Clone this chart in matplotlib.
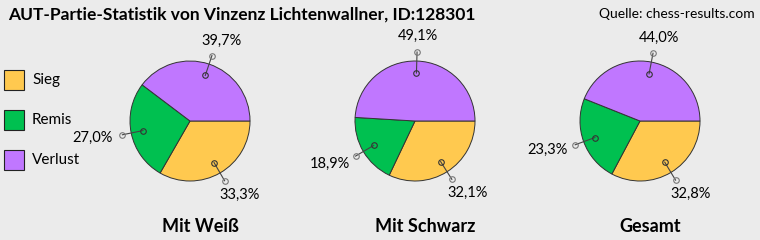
import numpy as np
import matplotlib
matplotlib.use("Agg")
import matplotlib.pyplot as plt

# Data
categories = ["Sieg", "Remis", "Verlust"]
colors = ["#FFC94F", "#00C050", "#C077FF"]
panels = ["Mit Weiß", "Mit Schwarz", "Gesamt"]
values = {
    "Mit Weiß": [33.3, 27.0, 39.7],
    "Mit Schwarz": [32.1, 18.9, 49.1],
    "Gesamt": [32.8, 23.3, 44.0],
}
title = "AUT-Partie-Statistik von Vinzenz Lichtenwallner, ID:128301"
source = "Quelle: chess-results.com"

plt.rcParams['font.family'] = ['Lato', 'DejaVu Sans']
bg = "#EBEBEB"

fig = plt.figure(figsize=(7.6, 2.4), dpi=100, facecolor=bg)
ax = fig.add_axes([0, 0, 1, 1])
ax.set_facecolor(bg)

centers = [(190, 121), (415, 121), (640, 121)]
r = 60

for (cx, cy), name in zip(centers, panels):
    vals = values[name]
    wedges, _ = ax.pie(vals, colors=colors, startangle=0, counterclock=True,
                       center=(cx, cy), radius=r, frame=True,
                       wedgeprops=dict(edgecolor="#333333", linewidth=0.7))
    total = sum(vals)
    start = 0.0
    for v in vals:
        mid = np.deg2rad((start + v / 2) / total * 360)
        start += v
        c, s = np.cos(mid), np.sin(mid)
        x1, y1 = cx + 0.8 * r * c, cy + 0.8 * r * s
        x2, y2 = cx + 1.15 * r * c, cy + 1.15 * r * s
        ax.plot([x1, x2], [y1, y2], color="#444444", lw=0.8)
        ax.plot([x1], [y1], "o", ms=4, mfc="none", mec="#333333", mew=0.8)
        ax.plot([x2], [y2], "o", ms=4, mfc="none", mec="#777777", mew=0.8)
        tx, ty = x2 + 30 * c, y2 + 16 * s
        ax.text(tx, ty, f"{v:.1f}%".replace(".", ","), ha="center", va="center",
                fontsize=10.5, color="black")
    ax.text(cx + 10, 226, name, ha="center", va="center", fontsize=13,
            fontweight="bold")

# legend
for i, (cat, col) in enumerate(zip(categories, colors)):
    y = 70 + i * 40
    ax.add_patch(plt.Rectangle((4, y), 20, 20, facecolor=col,
                               edgecolor="#222222", lw=0.8))
    ax.text(32, y + 10, cat, ha="left", va="center", fontsize=11)

ax.text(8, 15, title, ha="left", va="center", fontsize=12.5, fontweight="bold")
ax.text(755, 14, source, ha="right", va="center", fontsize=10)

ax.set_xlim(0, 760)
ax.set_ylim(240, 0)
ax.set_aspect("equal")
ax.axis("off")

fig.savefig("out.png", dpi=100, facecolor=bg)
